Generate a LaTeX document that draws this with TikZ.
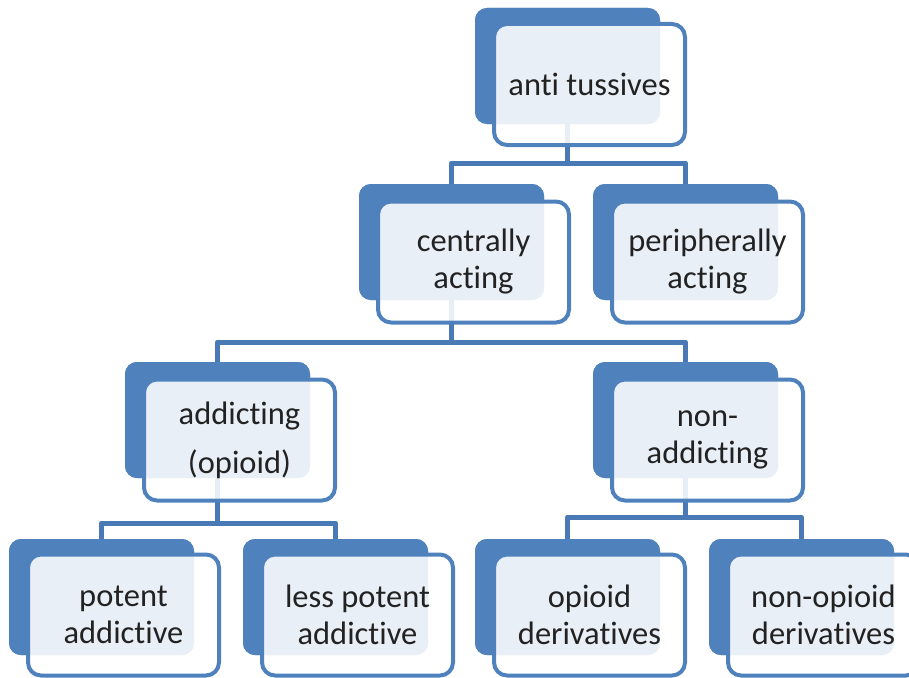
\documentclass[tikz,border=0pt]{standalone}
\usepackage{fontspec}
\setmainfont{Carlito}[Ligatures={NoCommon,NoContextual}]
\definecolor{bk}{HTML}{4F81BD}
\definecolor{ln}{HTML}{4A7AB5}
\definecolor{tx}{HTML}{222222}
\begin{document}
\begin{tikzpicture}[x=1pt,y=-1pt,
 back/.style={fill=bk, rounded corners=12pt, minimum width=185pt, minimum height=116pt, inner sep=0pt, outer sep=0pt},
 front/.style={draw=bk, line width=4pt, fill=white, fill opacity=0.88, text opacity=1, rounded corners=13pt, minimum width=191pt, minimum height=121pt, align=center, text=tx, font=\fontsize{32.5}{37}\selectfont, inner sep=0pt, outer sep=0pt},
 conn/.style={draw=ln, line width=5pt, line join=round}]
\useasboundingbox (0,0) rectangle (909,677);
% connector junctions
\coordinate (j1) at (567.5,163);
\coordinate (j2) at (451.5,342);
\coordinate (j3) at (217.5,523);
\coordinate (j4) at (685.5,517);
% back boxes
\node[back] (b1) at (567.5,66) {};
\node[back] (b2) at (451.5,242) {};
\node[back] (b3) at (685.5,242) {};
\node[back] (b4) at (217.5,420) {};
\node[back] (b5) at (685.5,420) {};
\node[back] (b6) at (101.5,597) {};
\node[back] (b7) at (335.5,597) {};
\node[back] (b8) at (567.5,597) {};
\node[back] (b9) at (801.5,597) {};
% connectors
\draw[conn] (b1.south) -- (j1);
\draw[conn] (b2.north) |- (j1) -| (b3.north);
\draw[conn] (b2.south) -- (j2);
\draw[conn] (b4.north) |- (j2) -| (b5.north);
\draw[conn] (b4.south) -- (j3);
\draw[conn] (b6.north) |- (j3) -| (b7.north);
\draw[conn] (b5.south) -- (j4);
\draw[conn] (b8.north) |- (j4) -| (b9.north);
% redraw back boxes over connector ends
\node[back] at (b1) {};
\node[back] at (b2) {};
\node[back] at (b3) {};
\node[back] at (b4) {};
\node[back] at (b5) {};
\node[back] at (b6) {};
\node[back] at (b7) {};
\node[back] at (b8) {};
\node[back] at (b9) {};
% front boxes
\node[front] (f1) at (589.5,84.5) {anti tussives};
\node[front] (f2) at (473.5,262) {centrally\\acting};
\node[front] (f3) at (707.5,262) {peripherally\\acting};
\node[front] (f4) at (239.5,440) {addicting\\[12pt](opioid)};
\node[front] (f5) at (707.5,440) {non-\\addicting};
\node[front] (f6) at (123.5,615) {potent\\addictive};
\node[front] (f7) at (357.5,615) {less potent\\addictive};
\node[front] (f8) at (589.5,615) {opioid\\derivatives};
\node[front] (f9) at (823.5,615) {non-opioid\\derivatives};
\end{tikzpicture}
\end{document}
